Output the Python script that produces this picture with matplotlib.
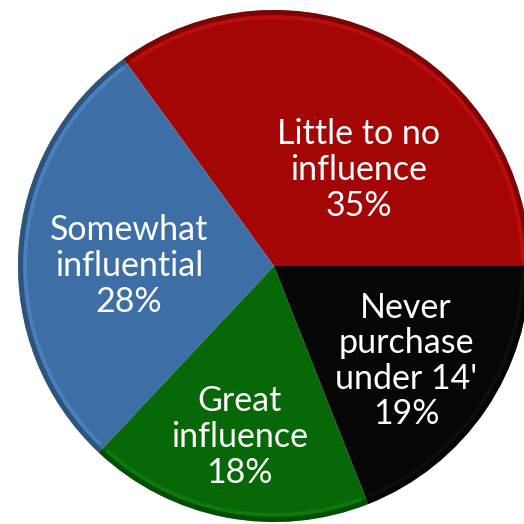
import matplotlib.pyplot as plt
from matplotlib.patches import Wedge
import matplotlib.colors as mcolors

# data
labels = ["Little to no\ninfluence\n35%", "Somewhat\ninfluential\n28%",
          "Great\ninfluence\n18%", "Never\npurchase\nunder 14'\n19%"]
values = [35, 28, 18, 19]
colors = ["#a40606", "#3d6fa6", "#066806", "#060606"]

# label centres (in pie radius units)
label_pos = [(0.33, 0.375), (-0.566, 0.0), (-0.133, -0.668), (0.516, -0.371)]

fig = plt.figure(figsize=(5.24, 5.24), dpi=100)
ax = fig.add_axes([0, 0, 1, 1])

wedges, _ = ax.pie(values, colors=colors, startangle=0, counterclock=True,
                   radius=1.0, wedgeprops=dict(linewidth=0))

# soft bevel: slightly darker rim and a faint highlight just inside
for w in wedges:
    c = mcolors.to_rgb(w.get_facecolor())
    dark = tuple(v * 0.6 for v in c)
    light = tuple(min(1, v * 1.3 + 0.1) for v in c)
    ax.add_patch(Wedge((0, 0), 1.0, w.theta1, w.theta2, width=0.02,
                       color=dark, lw=0, alpha=0.6))
    ax.add_patch(Wedge((0, 0), 0.98, w.theta1 + 1, w.theta2 - 1, width=0.015,
                       color=light, lw=0, alpha=0.3))

for txt, (x, y) in zip(labels, label_pos):
    ax.text(x, y, txt, ha="center", va="center", color="white",
            fontsize=24.5, family="Lato", linespacing=1.14)

cx, cy, r = 274, 266, 256
ax.set_xlim(-cx / r, (524 - cx) / r)
ax.set_ylim(-(524 - cy) / r, cy / r)
ax.set_aspect("equal")
ax.axis("off")

plt.savefig("out.png", dpi=100)
